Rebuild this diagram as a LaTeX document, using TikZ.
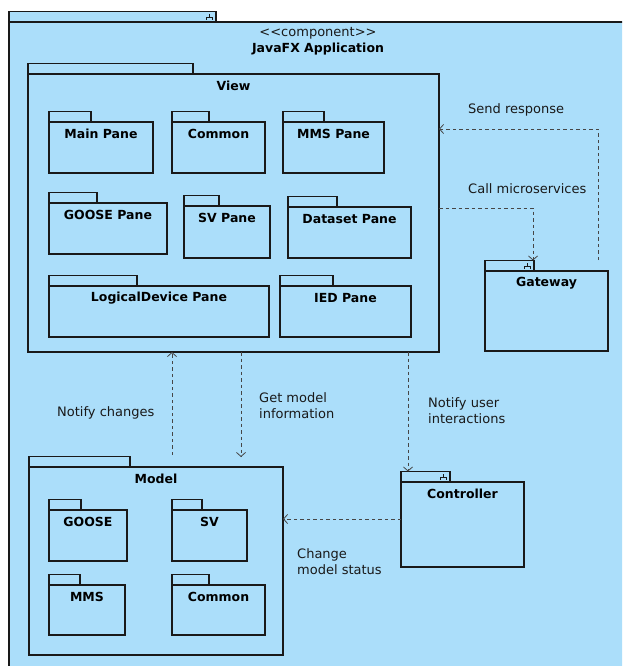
\documentclass[tikz,border=0pt]{standalone}
\usepackage{fontspec}
\setmainfont{DejaVu Sans}
\usepackage{tikz}
\usetikzlibrary{positioning}
\usetikzlibrary{arrows.meta}
\definecolor{pkgfill}{RGB}{171,222,250}
\definecolor{pkgline}{RGB}{25,25,25}
\definecolor{depgray}{RGB}{70,70,70}
\tikzset{
  pkgbody/.style={draw=pkgline, fill=pkgfill, line width=1.2pt, anchor=north west, inner sep=0pt, outer sep=0pt},
  pkgtab/.style={draw=pkgline, fill=pkgfill, line width=1.2pt, anchor=south west, inner sep=0pt, outer sep=0pt, minimum height=10.5pt},
  pkgtitle/.style={font=\fontsize{12.5}{14}\selectfont\bfseries, inner sep=0pt},
  lbl/.style={font=\fontsize{13}{16}\selectfont, align=left, inner sep=0pt, text=black!90},
  dep/.style={draw=depgray, line width=0.8pt, dash pattern=on 3.5pt off 3pt, -{Straight Barb[length=4pt,width=9pt]}},
  iconline/.style={draw=pkgline, line width=0.6pt}
}
\newcommand{\pkg}[7]{%
  \node[pkgbody, minimum width={(#4-#2)*1pt}, minimum height={(#5-#3)*1pt}] (#1) at (#2,#3) {};
  \node[pkgtab, minimum width={(#6-#2)*1pt}] (#1-tab) at (#1.north west) {};
  \node[pkgtitle] (#1-title) at ([yshift=-12pt]#1.north) {#7};
}
\newcommand{\compicon}[1]{%
  \draw[iconline] ([shift={(-6.5,-2.5)}]#1.east) -- ([shift={(-6.5,0.5)}]#1.east)
    ([shift={(-9.5,3)}]#1.east) -- ([shift={(-9.5,0.5)}]#1.east) -- ([shift={(-3.5,0.5)}]#1.east) -- ([shift={(-3.5,3)}]#1.east);
}
\begin{document}
\begin{tikzpicture}[x=1pt, y=-1pt]
\useasboundingbox (0,0) rectangle (622,666);
\clip (0,0) rectangle (622,666);
\node[pkgbody, minimum width=640pt, minimum height=700pt] (app) at (9,22) {};
\node[pkgtab, minimum width=207pt] (app-tab) at (app.north west) {};
\compicon{app-tab}
\node[lbl] (app-stereo) at (318,33) {\textless\kern0pt\textless component\textgreater\kern0pt\textgreater};
\node[pkgtitle] (app-title) at (318,49) {JavaFX Application};

\pkg{view}{28}{74}{439}{352}{193}{View}
\pkg{mainpane}{49}{122}{153}{173}{91}{Main Pane}
\pkg{viewcommon}{172}{122}{265}{173}{209}{Common}
\pkg{mmspane}{283}{122}{384}{173}{324}{MMS Pane}
\pkg{goosepane}{49}{203}{167}{254}{97}{GOOSE Pane}
\pkg{svpane}{184}{206}{270}{258}{219}{SV Pane}
\pkg{datasetpane}{288}{207}{411}{258}{337}{Dataset Pane}
\pkg{ldpane}{49}{286}{269}{337}{137}{LogicalDevice Pane}
\pkg{iedpane}{280}{286}{411}{337}{333}{IED Pane}

\pkg{gateway}{485}{271}{608}{351}{534}{Gateway}
\compicon{gateway-tab}

\pkg{model}{29}{467}{283}{655}{130}{Model}
\pkg{goose}{49}{510}{127}{561}{81}{GOOSE}
\pkg{sv}{172}{510}{247}{561}{202}{SV}
\pkg{mms}{49}{585}{125}{635}{80}{MMS}
\pkg{modelcommon}{172}{585}{265}{635}{209}{Common}

\pkg{controller}{401}{482}{524}{567}{450}{Controller}
\compicon{controller-tab}

\coordinate (sendstart) at (598,260);
\coordinate (sendcorner) at (598,129);
\draw[dep] (sendstart) -- (sendcorner) -- (sendcorner -| view.east);
\coordinate (callcorner) at (533,208);
\draw[dep] (callcorner -| view.east) -- (callcorner) -- (callcorner |- gateway-tab.north);
\coordinate (notifyend) at (172,455);
\draw[dep] (notifyend) -- (notifyend |- view.south);
\coordinate (getend) at (241,457);
\draw[dep] (getend |- view.south) -- (getend);
\coordinate (userx) at (408,400);
\draw[dep] (userx |- view.south) -- (userx |- controller-tab.north);
\coordinate (changey) at (350,519);
\draw[dep] (changey -| controller.west) -- (changey -| model.east);

\node[lbl, anchor=west] (sendlbl) at (468,110) {Send response};
\node[lbl, anchor=west] (calllbl) at (468,189) {Call microservices};
\node[lbl, anchor=west] (notifylbl) at (57,413) {Notify changes};
\node[lbl, anchor=west] (getlbl) at (259,406) {Get model\\information};
\node[lbl, anchor=west] (userlbl) at (428,411) {Notify user\\interactions};
\node[lbl, anchor=west] (changelbl) at (297,562) {Change\\model status};
\end{tikzpicture}
\end{document}
